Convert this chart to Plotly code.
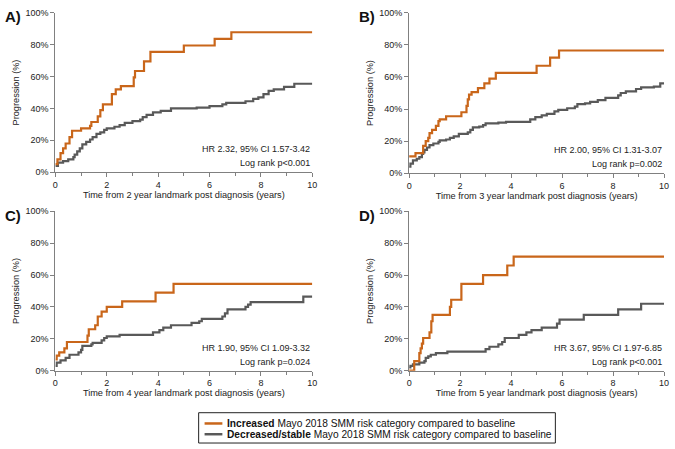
import plotly.graph_objects as go

# ---- Data: time in years, cumulative progression in % ----
a_inc_t = [0, 0.08, 0.2, 0.3, 0.4, 0.55, 0.65, 1.0, 1.35, 1.4, 1.65, 1.75, 1.85, 2.2, 2.35, 2.55, 3.05, 3.1, 3.45, 3.7, 5.0, 6.2, 6.85, 10]
a_inc_y = [5, 8, 12, 15, 18, 22, 26, 27.5, 29, 31.5, 35, 39, 42.5, 49, 52, 54, 59.5, 63.5, 69.5, 75.5, 79.5, 83.7, 87.8, 87.8]
a_dec_t = [0, 0.1, 0.3, 0.5, 0.7, 0.75, 0.85, 0.95, 1.05, 1.2, 1.35, 1.45, 1.6, 1.75, 1.9, 2.0, 2.3, 2.5, 2.7, 3.0, 3.3, 3.4, 3.55, 3.8, 4.1, 4.5, 5.5, 6.0, 6.5, 6.65, 7.4, 7.7, 7.9, 8.1, 8.3, 8.5, 8.9, 9.3, 10]
a_dec_y = [4, 6, 7, 8, 9.5, 11, 13, 15, 17.5, 19, 20.5, 22, 24, 25, 26.5, 27.5, 28.5, 29.5, 31, 32, 33, 34.5, 36, 37.5, 38.5, 40, 40.5, 41.5, 42.5, 43.5, 44.5, 46, 47, 49, 51, 52, 53.5, 55.5, 55.5]

b_inc_t = [0, 0.25, 0.55, 0.65, 0.75, 0.8, 0.9, 1.05, 1.15, 1.2, 1.45, 2.05, 2.25, 2.3, 2.35, 2.45, 2.7, 2.95, 3.15, 3.4, 5.0, 5.53, 5.88, 10]
b_inc_y = [10.5, 12.5, 17, 20, 22, 25, 27, 29.5, 32.5, 33.5, 35.5, 38, 42, 46, 49, 50.5, 53, 56, 59, 62.5, 67, 72, 76.5, 76.5]
b_dec_t = [0, 0.05, 0.15, 0.3, 0.4, 0.5, 0.55, 0.6, 0.7, 0.8, 0.95, 1.15, 1.2, 1.45, 1.6, 1.75, 1.95, 2.3, 2.4, 2.5, 2.75, 2.9, 3.0, 3.5, 3.8, 4.75, 4.95, 5.2, 5.4, 5.7, 5.85, 6.2, 6.5, 6.6, 6.9, 7.1, 7.4, 7.7, 8.2, 8.3, 8.5, 8.9, 9.1, 9.6, 9.85, 10]
b_dec_y = [4, 6, 8, 9, 10, 12, 13, 14.5, 16, 17.5, 18.5, 19.5, 20.5, 21, 22, 23, 24.5, 25.5, 27, 28.5, 29, 30, 31, 31.5, 32, 33.5, 35, 36, 37, 38.5, 39.5, 40.5, 41.5, 43, 43.5, 44.5, 45.5, 47, 48.5, 50, 51, 52.5, 53.5, 54, 56, 56]

c_inc_t = [0, 0.05, 0.15, 0.35, 0.45, 1.25, 1.3, 1.55, 1.65, 1.8, 2.0, 2.6, 3.9, 4.6, 10]
c_inc_y = [7, 9.5, 11.5, 14, 18, 22, 26, 28.5, 34, 37, 40, 43.5, 49, 54.5, 54.5]
c_dec_t = [0, 0.05, 0.2, 0.4, 0.55, 0.9, 1.0, 1.05, 1.4, 1.45, 1.8, 1.9, 2.0, 2.5, 3.8, 4.05, 4.2, 4.5, 5.3, 5.6, 5.7, 6.5, 6.6, 6.7, 7.4, 7.5, 7.6, 9.65, 10]
c_dec_y = [3, 5, 6.5, 8, 10, 11.5, 13, 15.5, 16.5, 17.5, 19, 20.5, 21.5, 22.5, 24, 25.5, 27, 28.5, 30, 31, 32.5, 34, 36, 38.5, 40, 41.5, 43, 46.5, 46.5]

d_inc_t = [0, 0.2, 0.4, 0.45, 0.5, 0.55, 0.8, 0.87, 0.92, 1.6, 1.65, 2.05, 2.9, 3.85, 4.1, 10]
d_inc_y = [0, 6, 11, 14, 17, 20.5, 24, 31, 35, 40, 44.5, 54.5, 60, 66, 71.5, 71.5]
d_dec_t = [0, 0.05, 0.15, 0.4, 0.6, 0.65, 0.75, 0.85, 1.05, 1.5, 3.0, 3.15, 3.5, 3.65, 3.75, 4.3, 4.6, 4.8, 5.2, 5.8, 5.9, 6.85, 8.2, 9.1, 10]
d_dec_y = [2, 3, 4, 5, 6, 8, 9, 10, 11, 12, 13.5, 15, 16.5, 18, 20.5, 22.5, 24, 25.5, 27, 29.5, 32, 35, 38.5, 42, 42]

panel_labels = ["A)", "B)", "C)", "D)"]
landmarks = [2, 3, 4, 5]
hr_texts = ["HR 2.32, 95% CI 1.57-3.42", "HR 2.00, 95% CI 1.31-3.07",
            "HR 1.90, 95% CI 1.09-3.32", "HR 3.67, 95% CI 1.97-6.85"]
p_texts = ["Log rank p<0.001", "Log rank p=0.002", "Log rank p=0.024", "Log rank p<0.001"]
y_ticks = [0, 20, 40, 60, 80, 100]
y_tick_labels = ["0%", "20%", "40%", "60%", "80%", "100%"]
x_ticks = [0, 2, 4, 6, 8, 10]

legend_bold = ["Increased", "Decreased/stable"]
legend_rest = " Mayo 2018 SMM risk category compared to baseline"

ORANGE = "#C9661A"
GREY = "#595959"
AXC = "#808080"
FONT = "Liberation Sans, Arial, sans-serif"
TXT = "#222222"

W, H = 675, 449
# panel pixel boxes: (left, right, top, bottom)
boxes = [(53, 313, 8, 171), (411, 669, 8, 172), (53, 313, 211, 374), (411, 669, 211, 374)]

curves = [(a_inc_t, a_inc_y, a_dec_t, a_dec_y),
          (b_inc_t, b_inc_y, b_dec_t, b_dec_y),
          (c_inc_t, c_inc_y, c_dec_t, c_dec_y),
          (d_inc_t, d_inc_y, d_dec_t, d_dec_y)]

fig = go.Figure()
layout = dict(width=W, height=H, margin=dict(l=0, r=0, t=0, b=0),
              paper_bgcolor="white", plot_bgcolor="white", showlegend=False,
              font=dict(family=FONT, color=TXT, size=9))
annotations = []
shapes = []

for i, (it, iy, dt, dy) in enumerate(curves):
    n = "" if i == 0 else str(i + 1)
    xa, ya = "x" + n, "y" + n
    fig.add_trace(go.Scatter(x=dt, y=dy, mode="lines", line=dict(color=GREY, width=2.2, shape="hv"),
                             xaxis=xa, yaxis=ya, name=legend_bold[1]))
    fig.add_trace(go.Scatter(x=it, y=iy, mode="lines", line=dict(color=ORANGE, width=2.2, shape="hv"),
                             xaxis=xa, yaxis=ya, name=legend_bold[0]))
    l, r, t, b = boxes[i]
    axcommon = dict(showline=True, linecolor=AXC, linewidth=1, ticks="outside",
                    tickcolor=AXC, ticklen=4, tickwidth=1, showgrid=False, zeroline=False,
                    tickfont=dict(size=9, family=FONT, color=TXT))
    layout["xaxis" + n] = dict(domain=[l / W, r / W], range=[0, 10], tickvals=x_ticks,
                               anchor=ya,
                               minor=dict(ticks="outside", dtick=1, ticklen=3, tickcolor=AXC),
                               title=dict(text=f"Time from {landmarks[i]} year landmark post diagnosis (years)",
                                          font=dict(size=9.2, family=FONT, color=TXT), standoff=2),
                               **axcommon)
    layout["yaxis" + n] = dict(domain=[1 - b / H, 1 - t / H], range=[0, 100], tickvals=y_ticks,
                               ticktext=y_tick_labels, anchor=xa,
                               title=dict(text="Progression (%)", font=dict(size=9.2, family=FONT, color=TXT),
                                          standoff=4),
                               **axcommon)
    annotations.append(dict(text=f"<b>{panel_labels[i]}</b>", x=(l - 53) / W, y=1 - (t + 4) / H,
                            xref="paper", yref="paper", xanchor="left", yanchor="middle",
                            showarrow=False, font=dict(size=15, family=FONT, color="#111111")))
    annotations.append(dict(text=hr_texts[i], x=10, y=14.3,
                            xref=xa, yref=ya, xanchor="right", yanchor="middle",
                            showarrow=False, font=dict(size=9, family=FONT, color=TXT)))
    annotations.append(dict(text=p_texts[i], x=10, y=5.5,
                            xref=xa, yref=ya, xanchor="right", yanchor="middle",
                            showarrow=False, font=dict(size=9, family=FONT, color=TXT)))

# legend box (drawn in paper coordinates)
lg_l, lg_r, lg_t, lg_b = 198, 559, 417, 448
shapes.append(dict(type="rect", xref="paper", yref="paper", x0=lg_l / W, x1=lg_r / W,
                   y0=1 - lg_b / H, y1=1 - lg_t / H, line=dict(color="#222222", width=1),
                   fillcolor="white", layer="above"))
for k, (col, yy) in enumerate([(ORANGE, 428), (GREY, 439)]):
    shapes.append(dict(type="line", xref="paper", yref="paper", x0=204 / W, x1=222 / W,
                       y0=1 - yy / H, y1=1 - yy / H, line=dict(color=col, width=2.5), layer="above"))
    annotations.append(dict(text=f"<b>{legend_bold[k]}</b>{legend_rest}", x=225 / W, y=1 - yy / H,
                            xref="paper", yref="paper", xanchor="left", yanchor="middle",
                            showarrow=False, font=dict(size=10.2, family=FONT, color="#111111")))

layout["annotations"] = annotations
layout["shapes"] = shapes
fig.update_layout(**layout)
fig.write_html("out.html", config={"displayModeBar": False},
               post_script="document.body.style.margin='0';document.body.style.padding='0';")
